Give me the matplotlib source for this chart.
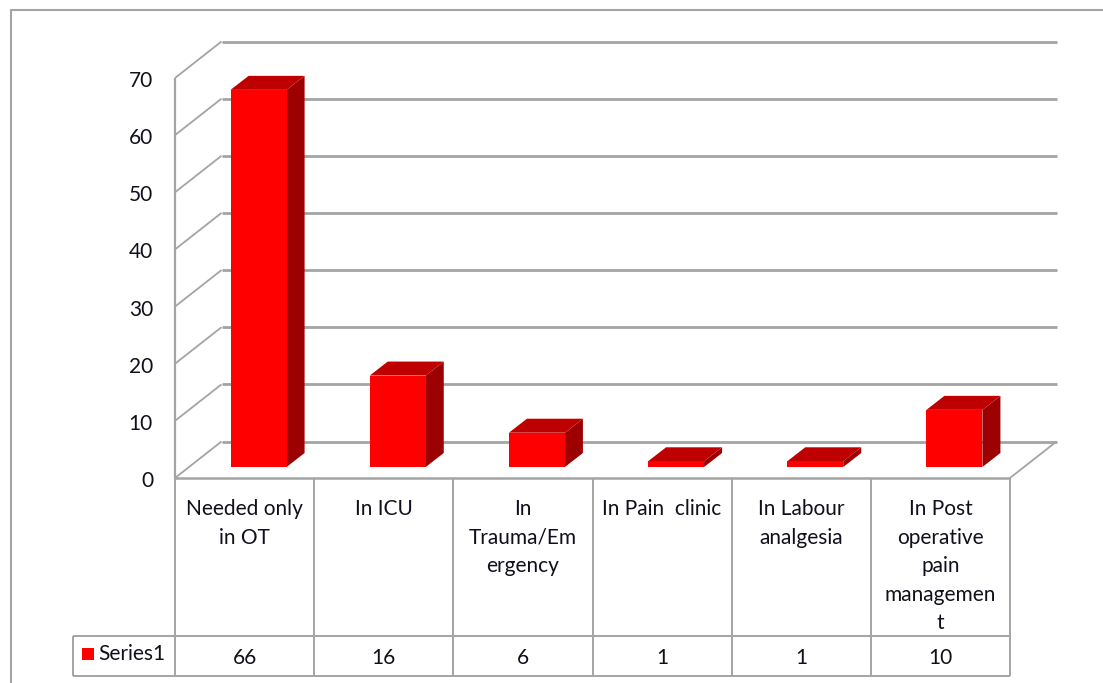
import matplotlib
matplotlib.use("Agg")
import matplotlib.pyplot as plt
from matplotlib.patches import Polygon, Rectangle

categories = ["Needed only\nin OT", "In ICU", "In\nTrauma/Em\nergency", "In Pain  clinic",
              "In Labour\nanalgesia", "In Post\noperative\npain\nmanagemen\nt"]
values = [66, 16, 6, 1, 1, 10]
y_ticks = [0, 10, 20, 30, 40, 50, 60, 70]
series_name = "Series1"

plt.rcParams['font.family'] = ['Lato', 'DejaVu Sans']
W, H = 1103, 683
GRAY = '#a4a4a4'
TXT = '#10101c'
FS = 15

fig = plt.figure(figsize=(W / 100, H / 100), dpi=100)
# axes sits exactly on the front plane of the 3d box
ax = fig.add_axes([175 / W, (H - 478) / H, 835 / W, 400 / H])
ax.set_xlim(0, 6)
ax.set_ylim(0, 70)
ax.axis('off')

# pixel sizes turned into data units
px = 6 / 835
py = 70 / 400
depth_x, depth_y = 46.5 * px, 36.5 * py


def line(xs, ys, lw=1.5, z=1):
    ax.plot(xs, ys, color=GRAY, lw=lw, clip_on=False, zorder=z, solid_capstyle='butt')


# walls and gridlines
for t in y_ticks:
    line([0, depth_x], [t, t + depth_y], lw=1.3)
    line([depth_x, 6 + depth_x], [t + depth_y, t + depth_y], lw=2)
    ax.text(-22 * px, t - 3 * py, str(t), ha='right', va='center', fontsize=FS, color=TXT, clip_on=False)
line([0, 0], [0, 70], lw=1.6)
line([6, 6 + depth_x], [0, depth_y], lw=1.3)

# 3d bars
bar_w = 56 * px
shift_x, shift_y = 14 * px, 11 * py
bar_dx, bar_dy = 18 * px, 14 * py
for i, v in enumerate(values):
    x0 = i + 0.5 + shift_x - bar_w / 2
    x1 = x0 + bar_w
    y0 = shift_y
    y1 = y0 + v
    ax.add_patch(Polygon([(x1, y0), (x1 + bar_dx, y0 + bar_dy), (x1 + bar_dx, y1 + bar_dy), (x1, y1)],
                         fc='#9c0000', ec='none', zorder=3, clip_on=False))
    ax.add_patch(Polygon([(x0, y1), (x1, y1), (x1 + bar_dx, y1 + bar_dy), (x0 + bar_dx, y1 + bar_dy)],
                         fc='#bf0000', ec='none', zorder=3, clip_on=False))
    ax.add_patch(Rectangle((x0, y0), bar_w, v, fc='#ff0000', ec='none', zorder=4, clip_on=False))

# data table under the axis
row1 = -158 * py
row2 = -198 * py
line([0, 6], [0, 0], lw=1.8, z=5)
for i in range(7):
    line([i, i], [0, row2], lw=1.4)
line([-102 * px, 6], [row1, row1], lw=1.4)
line([-102 * px, 6], [row2, row2], lw=1.4)
line([-102 * px, -102 * px], [row1, row2], lw=1.4)

for i, (c, v) in enumerate(zip(categories, values)):
    for j, part in enumerate(c.split("\n")):
        ax.text(i + 0.5, -(31 + j * 28.6) * py, part, ha='center', va='center',
                fontsize=FS, color=TXT, clip_on=False)
    ax.text(i + 0.5, -180 * py, str(v), ha='center', va='center', fontsize=FS, color=TXT, clip_on=False)

ax.add_patch(Rectangle((-93 * px, -182 * py), 12 * px, 12 * py, fc='#ff0000', ec='none', clip_on=False))
ax.text(-77 * px, -176 * py, series_name, ha='left', va='center', fontsize=FS, color=TXT, clip_on=False)

# outer chart frame, right and bottom sides are cropped off
fig.add_artist(plt.Line2D([10.5 / W, 10.5 / W, 1], [0, (H - 10) / H, (H - 10) / H], color=GRAY, lw=1.5))

fig.savefig('out.png', dpi=100, facecolor='white')
